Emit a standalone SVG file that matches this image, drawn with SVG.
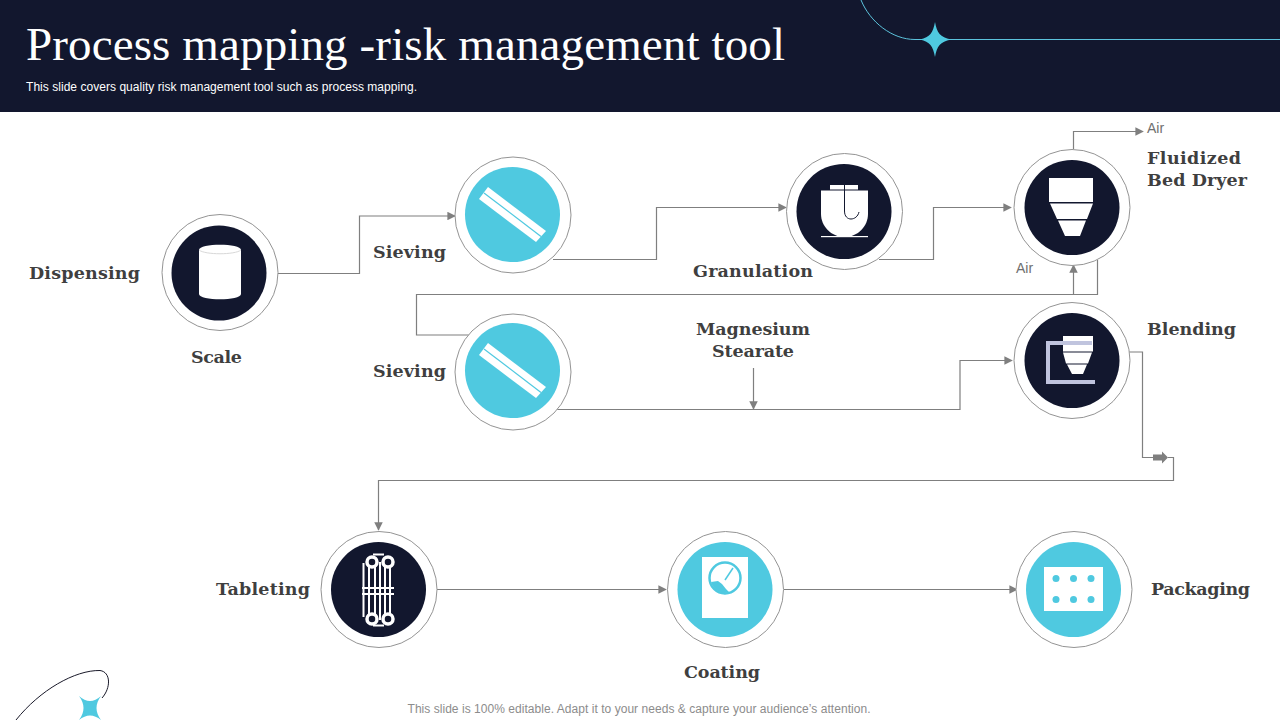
<svg xmlns="http://www.w3.org/2000/svg" width="1280" height="720" viewBox="0 0 1280 720">
<style>
.ring{fill:#fff;stroke:#949494;stroke-width:1}
.navy{fill:#12172e}
.cyan{fill:#4fc9e0}
.w{fill:#fff}
.conn{fill:none;stroke:#7f7f7f;stroke-width:1.2}
.lab{font-family:"DejaVu Serif",serif;font-weight:700;font-size:17.5px;fill:#3f3f3f}
.air{font-family:"Liberation Sans",Arial,sans-serif;font-size:14px;fill:#6f6f6f}
</style>
<defs>
<marker id="arr" viewBox="0 0 10 10" refX="9" refY="5" markerWidth="8.500" markerHeight="8.500" markerUnits="userSpaceOnUse" orient="auto"><path d="M0 0L10 5L0 10z" fill="#7f7f7f"/></marker>
</defs>
<rect width="1280" height="112" class="navy"/>
<path d="M861 0C870 22 892 39.500 915 39.500H1280" fill="none" stroke="#5cc3dc" stroke-width="1"/>
<path d="M935 22C937 33 940 37 951 39.500C940 42 937 46 935 57C933 46 930 42 920 39.500C930 37 933 33 935 22Z" class="cyan"/>
<text x="26" y="60" font-family="'Liberation Serif',serif" font-size="47" fill="#fff" textLength="759" lengthAdjust="spacing">Process mapping -risk management tool</text>
<text x="26" y="91" font-family="'Liberation Sans',Arial,sans-serif" font-size="12" fill="#fff" textLength="391" lengthAdjust="spacing">This slide covers quality risk management tool such as process mapping.</text>

<g id="connectors">
<path class="conn" marker-end="url(#arr)" d="M278 273.500H359.500V216H455"/>
<path class="conn" marker-end="url(#arr)" d="M553 259.500H656.500V207.500H786"/>
<path class="conn" marker-end="url(#arr)" d="M879 259.500H933.500V207.500H1011"/>
<path class="conn" marker-end="url(#arr)" d="M1073.500 149V131.500H1143"/>
<path class="conn" d="M1097.500 260V294.500H416.500V335H470"/>
<path class="conn" marker-end="url(#arr)" d="M1073.500 294.500V265"/>
<path class="conn" marker-end="url(#arr)" d="M556 409.500H960V360.500H1012"/>
<path class="conn" marker-end="url(#arr)" d="M753.500 368V409"/>
<path class="conn" d="M1129 352H1142.500V457.500H1153"/>
<path d="M1153 454.500H1162V451.500L1168 457.500L1162 463.500V460.500H1153Z" fill="#7f7f7f"/>
<path class="conn" marker-end="url(#arr)" d="M1168 457.500H1173.500V480.500H378.500V530"/>
<path class="conn" marker-end="url(#arr)" d="M437 589.500H666"/>
<path class="conn" marker-end="url(#arr)" d="M784 589.500H1017"/>
</g>

<g id="scale">
<circle class="ring" cx="220" cy="272.500" r="58"/><circle class="navy" cx="219" cy="273" r="47.500"/>
<path class="w" d="M199 250C199 243 241 243 241 250V294C241 301 199 301 199 294Z"/>
<path d="M199 250C205 255 235 255 241 250" fill="none" stroke="#d8d8d8" stroke-width="1"/>
</g>
<g id="sieving-1">
<circle class="ring" cx="513" cy="215" r="58"/><circle class="cyan" cx="512.500" cy="214.500" r="47.500"/>
<path class="w" d="M488 187L546 231L536 242L479 199Z"/>
<path d="M484 193L541 236.500" stroke="#4fc9e0" stroke-width="1.200" fill="none"/>
</g>
<g id="granulation">
<circle class="ring" cx="844.500" cy="211.500" r="58"/><circle class="navy" cx="844" cy="211.500" r="47.500"/>
<rect class="w" x="830" y="185" width="28" height="4.500"/>
<path class="w" d="M821 190.500H868V214C868 226 858 237 844.500 237C831 237 821 226 821 214Z"/>
<rect class="w" x="821" y="236" width="47" height="1.200"/>
<path d="M844.500 185V211C844.500 222 857 221 859 212" fill="none" stroke="#12172e" stroke-width="1"/>
</g>
<g id="fluidized-bed-dryer">
<circle class="ring" cx="1072" cy="207.500" r="58"/><circle class="navy" cx="1072" cy="207.500" r="47.500"/>
<path class="w" d="M1049 178H1093V202H1049ZM1050 203.500H1093L1087 219H1057ZM1058 220.500H1086L1080 236H1065Z"/>
</g>
<g id="blending">
<circle class="ring" cx="1072" cy="360.500" r="58"/><circle class="navy" cx="1072" cy="360.500" r="47.500"/>
<path class="w" d="M1063 336H1093V351.500H1063ZM1063 352.500H1092L1088 363.500H1066ZM1067 364.500H1087L1083 374H1072Z"/>
<path d="M1092 343H1048V382H1095" fill="none" stroke="#c0c4de" stroke-width="4"/>
</g>
<g id="sieving-2">
<circle class="ring" cx="513" cy="372" r="58"/><circle class="cyan" cx="512.500" cy="370.500" r="47.500"/>
<path class="w" d="M488 343L546 387L536 398L479 355Z"/>
<path d="M484 349L541 392.500" stroke="#4fc9e0" stroke-width="1.200" fill="none"/>
</g>
<g id="tableting">
<circle class="ring" cx="379" cy="589.500" r="58"/><circle class="navy" cx="378.500" cy="589.500" r="47.500"/>
<g fill="none" stroke="#fff" stroke-width="2">
<path d="M363.500 563V617M369 563V618M375 562V620M380 562V620M385 562V620M390 562V620M362 588H394M362 594H394"/>
<path d="M373 554.500H384M373 625.500H384" stroke-width="2"/>
</g>
<g fill="#12172e" stroke="#fff" stroke-width="3.500"><circle cx="372" cy="562" r="5"/><circle cx="388" cy="562" r="5"/><circle cx="372" cy="619" r="5"/><circle cx="388" cy="619" r="5"/></g>
</g>
<g id="coating">
<circle class="ring" cx="725.500" cy="589.500" r="58"/><circle class="cyan" cx="725" cy="589.500" r="47.500"/>
<rect class="w" x="702" y="557" width="46" height="61"/>
<circle cx="725" cy="578" r="15.500" fill="#fff" stroke="#4fc9e0" stroke-width="2.500"/>
<path d="M725 580L733 568" stroke="#4fc9e0" stroke-width="1.500"/>
<path class="cyan" d="M711 582L718 581L722 584L726 589L729 592C722 595 714 591 711 582Z"/>
</g>
<g id="packaging">
<circle class="ring" cx="1074" cy="589.500" r="58"/><circle class="cyan" cx="1073.500" cy="589.500" r="47.500"/>
<rect class="w" x="1044" y="567" width="59" height="44"/>
<g class="cyan"><circle cx="1056" cy="578.500" r="3.500"/><circle cx="1073.500" cy="578.500" r="3.500"/><circle cx="1091" cy="578.500" r="3.500"/><circle cx="1056" cy="599.500" r="3.500"/><circle cx="1073.500" cy="599.500" r="3.500"/><circle cx="1091" cy="599.500" r="3.500"/></g>
</g>

<g id="labels">
<text class="lab" x="29" y="279" textLength="111">Dispensing</text>
<text class="lab" x="191" y="363" textLength="51">Scale</text>
<text class="lab" x="373" y="258" textLength="73">Sieving</text>
<text class="lab" x="373" y="377" textLength="73">Sieving</text>
<text class="lab" x="693" y="277" textLength="120">Granulation</text>
<text class="lab" x="696" y="335" textLength="114">Magnesium</text>
<text class="lab" x="712" y="357" textLength="82">Stearate</text>
<text class="lab" x="1147" y="164" textLength="94">Fluidized</text>
<text class="lab" x="1147" y="186" textLength="100">Bed Dryer</text>
<text class="lab" x="1147" y="335" textLength="89">Blending</text>
<text class="lab" x="216" y="595" textLength="94">Tableting</text>
<text class="lab" x="684" y="678" textLength="76">Coating</text>
<text class="lab" x="1151" y="595" textLength="99">Packaging</text>
<text class="air" x="1147" y="133">Air</text>
<text class="air" x="1016" y="273">Air</text>
</g>
<path d="M16 720C40 690 75 670 100 670.500C111 672 111 688 102 698" fill="none" stroke="#1a1a2a" stroke-width="1"/>
<path class="cyan" d="M79 696Q90 706 101 696Q92 708 101 720Q90 711 79 720Q88 708 79 696Z"/>
<text x="639" y="713" text-anchor="middle" font-family="'Liberation Sans',Arial,sans-serif" font-size="12" fill="#8c8c8c" textLength="463" lengthAdjust="spacing">This slide is 100% editable. Adapt it to your needs &amp; capture your audience’s attention.</text>
</svg>
